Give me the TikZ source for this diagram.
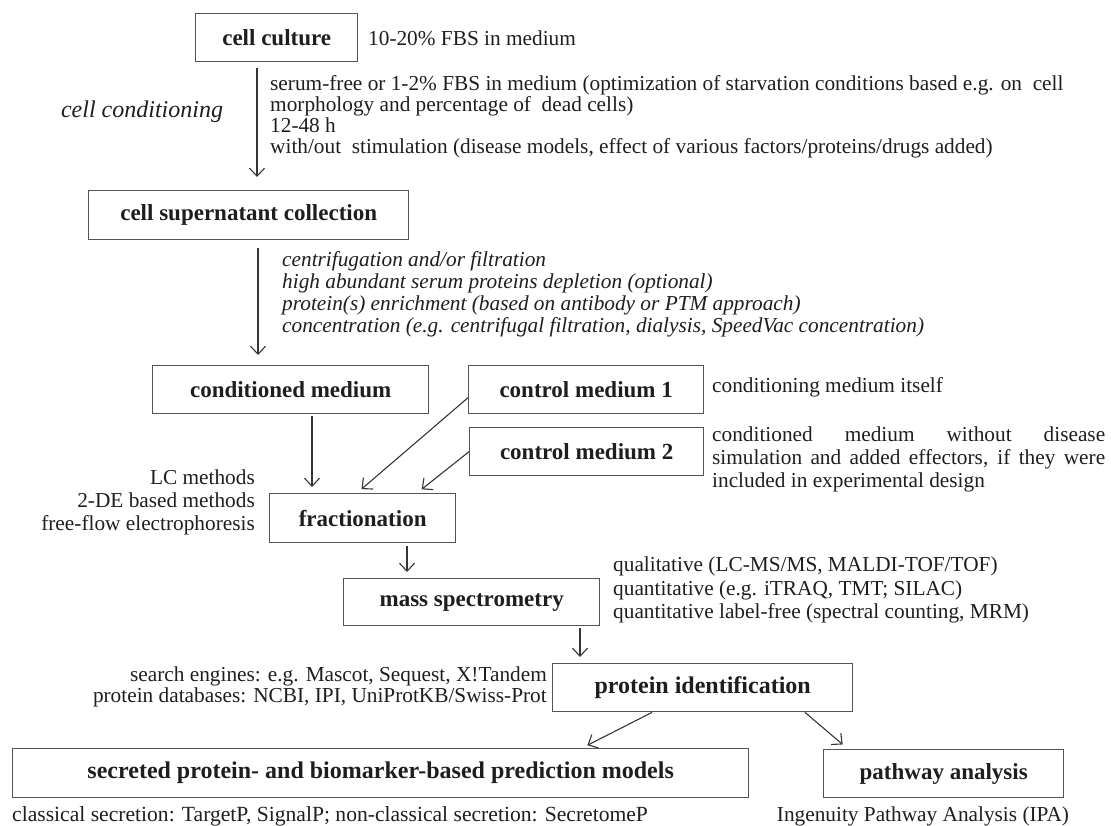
\documentclass[tikz,border=0pt]{standalone}
\usepackage{fontspec}
\setmainfont{Liberation Serif}
\usepackage{tikz}
\usetikzlibrary{positioning}
\usetikzlibrary{arrows.meta}

\definecolor{ink}{HTML}{1E1E1E}
\definecolor{frame}{HTML}{555555}

\tikzstyle{block} = [rectangle, draw=frame, line width=1.4pt, text=ink,
    font=\fontsize{23}{25}\selectfont\bfseries, inner sep=0pt,
    minimum height=48pt, anchor=north west]
\tikzstyle{bigblock} = [block, font=\fontsize{24}{26}\selectfont\bfseries]
\tikzstyle{note} = [text=ink, font=\fontsize{21.3}{21}\selectfont, align=left, inner sep=0pt]
\tikzstyle{line} = [draw=ink!90, line width=1.1pt, -{Straight Barb[length=8pt,width=15pt]}]

\begin{document}
\begin{tikzpicture}[x=1pt, y=-1pt]
  \useasboundingbox (0,0) rectangle (1111,825);

  \node [block, minimum width=162pt] (culture) at (195,13) {cell culture};
  \node [block, minimum width=320pt, minimum height=49pt] (super) at (88,190) {cell supernatant collection};
  \node [block, minimum width=276pt] (condmed) at (152,365) {conditioned medium};
  \node [block, minimum width=235pt] (ctrl1) at (468,365) {control medium 1};
  \node [block, minimum width=234pt] (ctrl2) at (469,427) {control medium 2};
  \node [block, minimum width=186pt, minimum height=49pt] (frac) at (269,493) {fractionation};
  \node [block, minimum width=256pt, minimum height=47pt] (mass) at (343,578) {mass spectrometry};
  \node [bigblock, minimum width=300pt, minimum height=48pt] (protid) at (552,663) {protein identification};
  \node [bigblock, minimum width=736pt, minimum height=49pt] (secreted) at (12,748) {secreted protein- and biomarker-based prediction models};
  \node [block, minimum width=240pt, minimum height=48pt] (pathway) at (823,749) {pathway analysis};

  % side notes
  \node [note, anchor=west] (fbs) at (368,38) {10-20\% FBS in medium};
  \node [note, anchor=center, font=\fontsize{24}{24}\selectfont\itshape] (cond) at (142,112) {cell conditioning};
  \node [note, anchor=north west] (starve) at (270,75) {serum-free or 1-2\% FBS in medium (optimization of starvation conditions based e.g. on \ cell\\
    morphology and percentage of \ dead cells)\\
    12-48 h\\
    with/out \ stimulation (disease models, effect of various factors/proteins/drugs added)};
  \node [note, anchor=north west, font=\fontsize{21.3}{22}\selectfont\itshape] (prep) at (282,251) {centrifugation and/or filtration\\
    high abundant serum proteins depletion (optional)\\
    protein(s) enrichment (based on antibody or PTM approach)\\
    concentration (e.g. centrifugal filtration, dialysis, SpeedVac concentration)};
  \node [note, anchor=west] (itself) at (712,387) {conditioning medium itself};
  \node [note, anchor=north west, font=\fontsize{21.3}{23}\selectfont] (noeff) at (712,427) {\makebox[393pt][s]{conditioned medium without disease}\\
    \makebox[393pt][s]{simulation and added effectors, if they were}\\
    included in experimental design};
  \node [note, anchor=north east, align=right, font=\fontsize{21.3}{23}\selectfont] (fracmeth) at (255,470) {LC methods\\
    2-DE based methods\\
    free-flow electrophoresis};
  \node [note, anchor=north west, font=\fontsize{21.3}{23.5}\selectfont] (msmeth) at (613,557) {qualitative (LC-MS/MS, MALDI-TOF/TOF)\\
    quantitative (e.g. iTRAQ, TMT; SILAC)\\
    quantitative label-free (spectral counting, MRM)};
  \node [note, anchor=north east, align=right] (search) at (547,667) {search engines: e.g. Mascot, Sequest, X!Tandem\\
    protein databases: NCBI, IPI, UniProtKB/Swiss-Prot};
  \node [note, anchor=west, font=\fontsize{21.6}{21}\selectfont] (signal) at (12,816) {classical secretion: TargetP, SignalP; non-classical secretion: SecretomeP};
  \node [note, anchor=center, font=\fontsize{21.3}{21}\selectfont] (ipa) at (923,816) {Ingenuity Pathway Analysis (IPA)};

  % arrow columns
  \coordinate (k1) at (257,0);
  \coordinate (k2) at (258,0);
  \coordinate (k3) at (312,0);
  \coordinate (k4) at (357,0);
  \coordinate (k5) at (417,0);
  \coordinate (k6) at (407,0);
  \coordinate (k7) at (580,0);
  \coordinate (k8) at (652,0);
  \coordinate (k9) at (582,0);
  \coordinate (k10) at (805,0);
  \coordinate (k11) at (848,0);

  \path [line, shorten <=6pt, shorten >=13pt] (culture.south -| k1) -- (super.north -| k1);
  \path [line, shorten <=8pt, shorten >=10pt] (super.south -| k2) -- (condmed.north -| k2);
  \path [line, shorten <=2pt, shorten >=6pt] (condmed.south -| k3) -- (frac.north -| k3);
  \path [line, shorten >=6pt] ([yshift=-8pt]ctrl1.west) -- (frac.north -| k4);
  \path [line, shorten >=6pt] (ctrl2.west) -- (frac.north -| k5);
  \path [line, shorten <=3pt, shorten >=6pt] (frac.south -| k6) -- (mass.north -| k6);
  \path [line, shorten <=2pt, shorten >=6pt] (mass.south -| k7) -- (protid.north -| k7);
  \path [line, shorten >=6pt] (protid.south -| k8) -- (secreted.north -| k9);
  \path [line, shorten >=7pt] (protid.south -| k10) -- (pathway.north -| k11);

\end{tikzpicture}
\end{document}
